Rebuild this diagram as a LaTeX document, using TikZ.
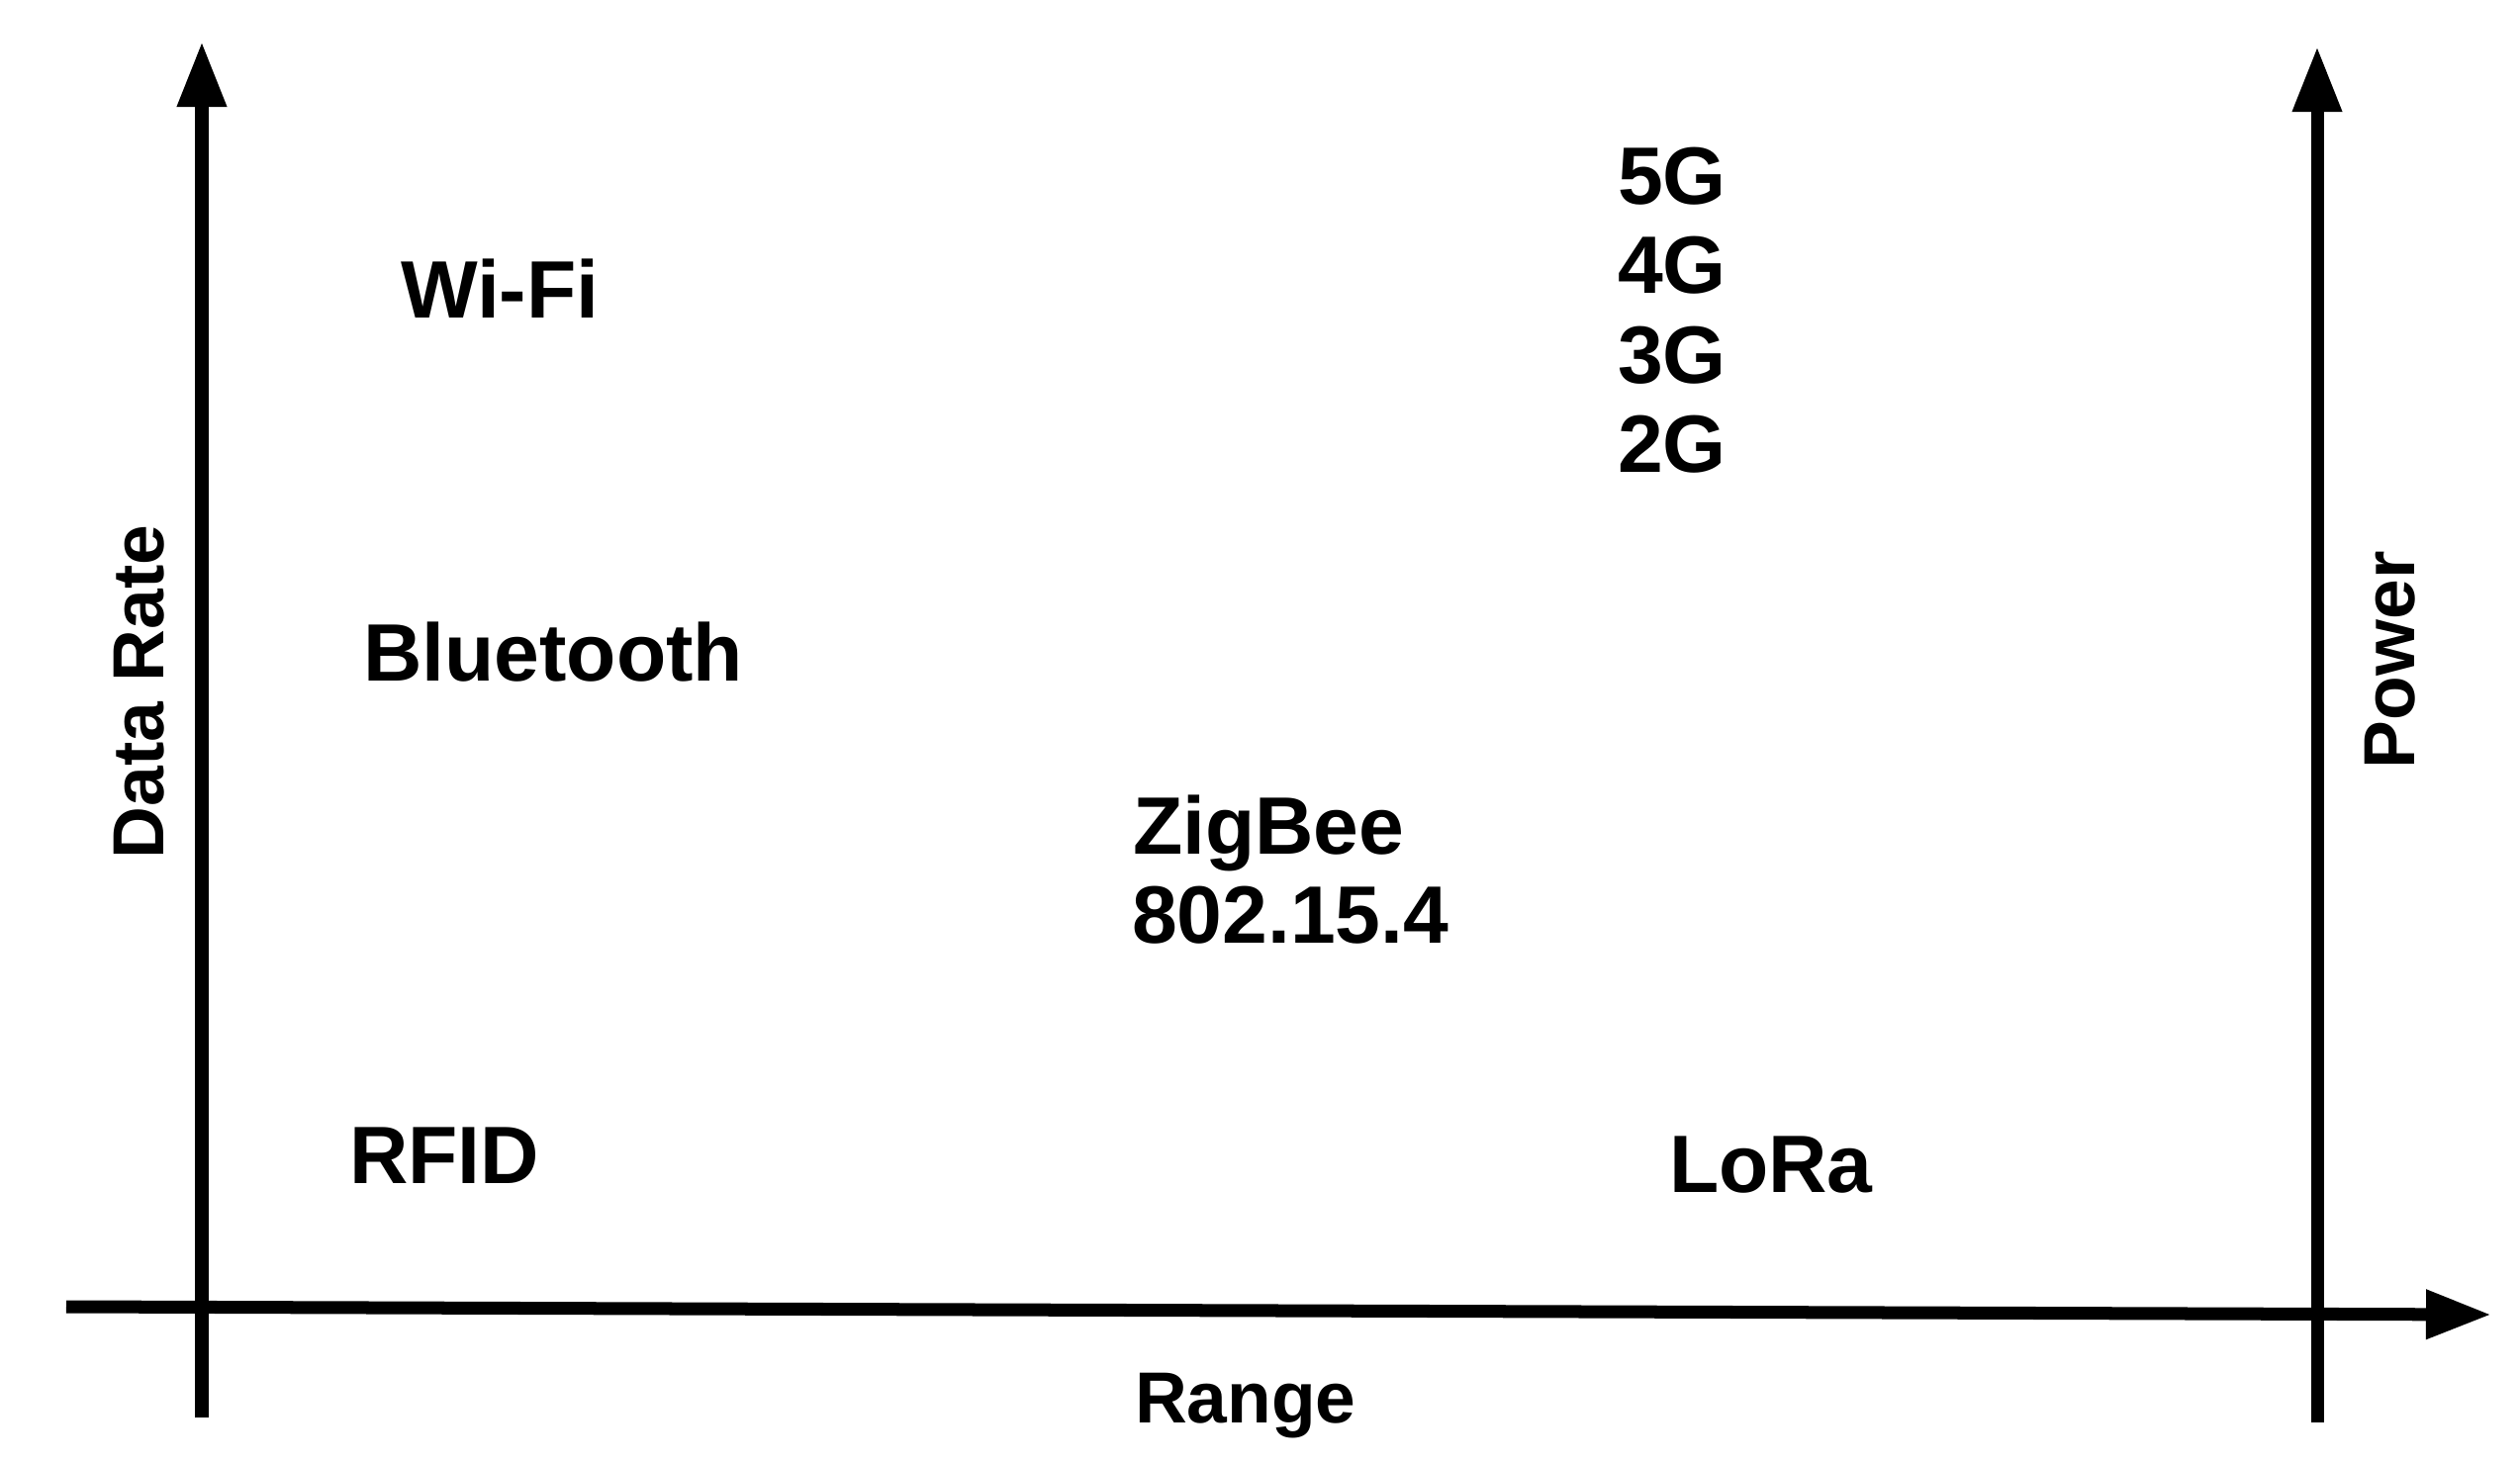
\documentclass[tikz,border=0pt]{standalone}
\usepackage{fontspec}
\setmainfont{Liberation Sans}
\usetikzlibrary{arrows.meta}
\tikzset{
  axisline/.style={line width=0.13cm, -{Triangle[length=0.66cm,width=0.47cm]}},
  techlbl/.style={anchor=base west, inner sep=0pt, outer sep=0pt, font=\bfseries\fontsize{23.4pt}{28pt}\selectfont},
  axlbl/.style={anchor=base west, inner sep=0pt, outer sep=0pt, font=\bfseries\fontsize{20.8pt}{24pt}\selectfont},
}
\begin{document}
\begin{tikzpicture}[x=0.01cm,y=-0.01cm]
\useasboundingbox (0,0) rectangle (2547,1479);
% axes
\coordinate (lbot) at (204,1433);
\coordinate (ltop) at (204,42);
\coordinate (rbot) at (2342,1438);
\coordinate (rtop) at (2342,47);
\coordinate (hleft) at (67,1321);
\coordinate (hright) at (2518,1329);
\draw[axisline] (lbot) -- (ltop);
\draw[axisline] (rbot) -- (rtop);
\draw[axisline] (hleft) -- (hright);
% axis labels
\node[axlbl] (range) at (1147,1438) {Range};
\node[axlbl, rotate=90] (datarate) at (165,868) {Data Rate};
\node[axlbl, rotate=90] (power) at (2440,777) {Power};
% technologies
\node[techlbl] (wifi) at (405,322) {Wi-Fi};
\node[techlbl] (bt) at (367,688) {Bluetooth};
\node[techlbl] (rfid) at (353,1196) {RFID};
\node[techlbl] (zigbee) at (1145,863) {ZigBee};
\node[techlbl] (ieee) at (1144,953) {802.15.4};
\node[techlbl] (g5) at (1635,207) {5G};
\node[techlbl] (g4) at (1635,297) {4G};
\node[techlbl] (g3) at (1635,387) {3G};
\node[techlbl] (g2) at (1635,478) {2G};
\node[techlbl] (lora) at (1687,1205) {LoRa};
\end{tikzpicture}
\end{document}
